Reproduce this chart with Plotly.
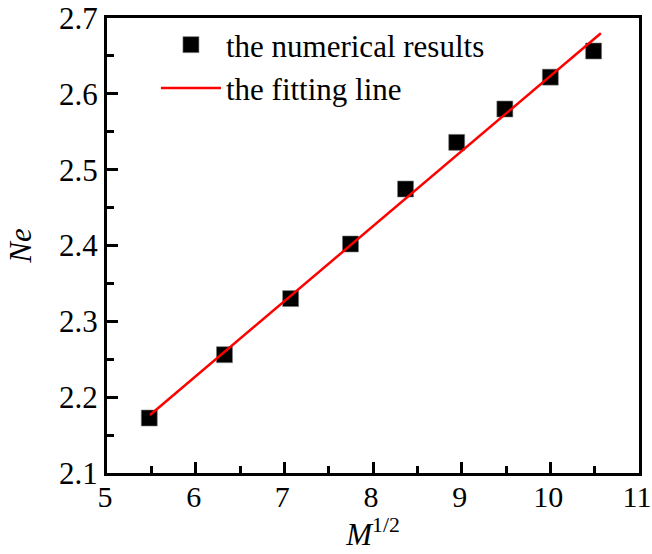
import plotly.graph_objects as go

# Ne versus the square root of M
sqrt_m = [5.477, 6.325, 7.071, 7.746, 8.367, 8.944, 9.487, 10.0, 10.488]
ne_values = [2.1725, 2.256, 2.330, 2.402, 2.4745, 2.536, 2.580, 2.622, 2.6565]

# linear fit Ne = a + b * M^(1/2)
fit_intercept = 1.6335
fit_slope = 0.0990
fit_x = [5.485, 10.57]
fit_y = [fit_intercept + fit_slope * x for x in fit_x]

x_ticks = [5, 6, 7, 8, 9, 10, 11]
y_ticks = [2.1, 2.2, 2.3, 2.4, 2.5, 2.6, 2.7]

FONT = "Liberation Serif"
FS = 31

fig = go.Figure()
fig.add_trace(go.Scatter(
    x=sqrt_m, y=ne_values, mode="markers", name="the numerical results",
    marker=dict(symbol="square", size=16, color="black",
                line=dict(color="#808080", width=0.6)),
))
fig.add_trace(go.Scatter(
    x=fit_x, y=fit_y, mode="lines", name="the fitting line",
    line=dict(color="#ff0000", width=2.5),
))

axis_common = dict(
    showline=True, linecolor="black", linewidth=3, mirror=True,
    ticks="inside", ticklen=11, tickwidth=3, tickcolor="black",
    showgrid=False, zeroline=False, automargin=False,
    ticklabeloverflow="allow",
)

fig.update_xaxes(
    range=[5, 11], tickvals=x_ticks, ticklabelstandoff=-5, ticklabelshift=-2,
    tickfont=dict(family=FONT, size=30, color="black"),
    minor=dict(ticks="inside", ticklen=7, tickwidth=3, tickcolor="black", dtick=0.5),
    title=dict(text="<i>M</i><sup>1/2</sup>", font=dict(family=FONT, size=FS, color="black"),
               standoff=6),
    **axis_common,
)
fig.update_yaxes(
    range=[2.1, 2.7], tickvals=y_ticks, tickformat=".1f",
    tickfont=dict(family=FONT, size=FS, color="black"),
    minor=dict(ticks="inside", ticklen=7, tickwidth=3, tickcolor="black", dtick=0.05),
    title=dict(text="<i>Ne</i>", font=dict(family=FONT, size=FS, color="black"),
               standoff=19),
    **axis_common,
)

fig.update_layout(
    width=652, height=554,
    margin=dict(l=107, r=13, t=18, b=81),
    plot_bgcolor="white", paper_bgcolor="white",
    showlegend=True,
    legend=dict(x=0.092, y=1.0, xanchor="left", yanchor="top",
                bgcolor="rgba(0,0,0,0)", font=dict(family=FONT, size=FS, color="black"),
                itemwidth=60, tracegroupgap=0),
)

fig.write_html("out.html")
